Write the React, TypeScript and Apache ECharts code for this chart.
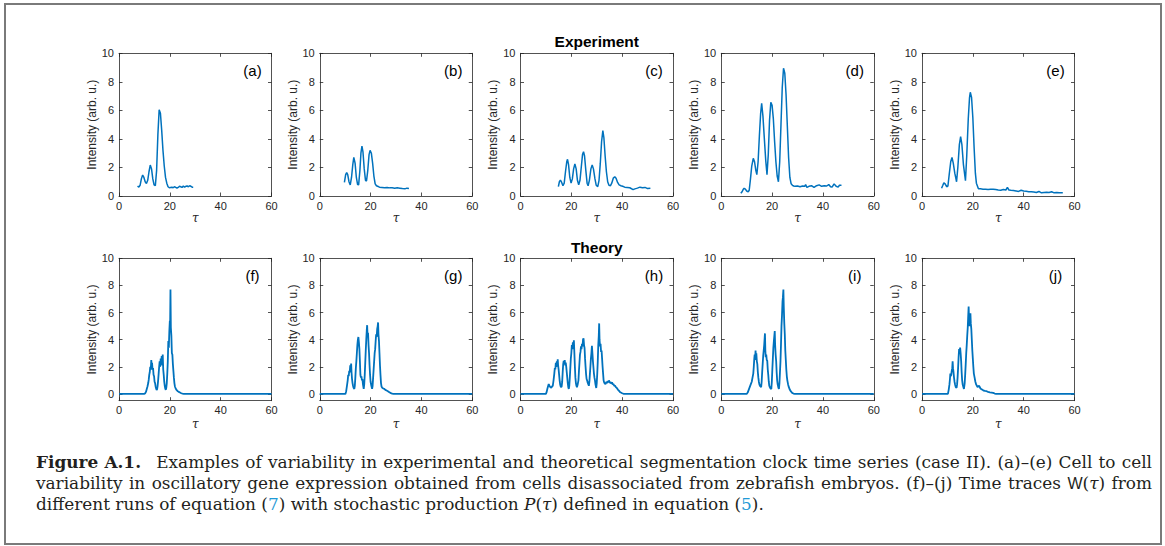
import React, { useEffect, useRef } from "react";
import * as echarts from "echarts";

const W = 1165;
const H = 546;

// ---------- labels ----------
const tauTicks = [0, 20, 40, 60];
const intensityTicks = [0, 2, 4, 6, 8, 10];
const panelLabels = ["(a)", "(b)", "(c)", "(d)", "(e)", "(f)", "(g)", "(h)", "(i)", "(j)"];
const rowTitles = ["Experiment", "Theory"];
const yAxisTitle = "Intensity (arb. u.)";
const xAxisTitle = "τ";

// ---------- experiment traces [tau, intensity] ----------
const traceA = [[7.3,0.7],[7.8,0.62],[8.3,0.75],[8.8,1.2],[9.3,1.47],[9.8,1.3],[10.3,1.0],[10.8,0.88],[11.3,1.1],[11.8,1.7],[12.3,2.17],[12.8,1.9],[13.3,1.2],[13.8,0.78],[14.3,0.72],[14.8,1.8],[15.3,4.3],[15.8,6.05],[16.3,5.8],[16.8,4.6],[17.3,3.2],[17.8,2.1],[18.3,1.3],[18.8,0.9],[19.3,0.65],[19.8,0.58],[20.3,0.6],[20.8,0.62],[21.3,0.58],[21.8,0.65],[22.3,0.6],[22.8,0.55],[23.3,0.6],[23.8,0.68],[24.3,0.65],[24.8,0.6],[25.3,0.7],[25.8,0.62],[26.3,0.68],[26.8,0.7],[27.3,0.65],[27.8,0.72],[28.3,0.68],[28.8,0.62],[29.2,0.62]];
const traceB = [[9.7,0.95],[10.2,1.5],[10.6,1.65],[11.0,1.5],[11.5,1.0],[12.0,0.78],[12.5,1.3],[13.0,2.2],[13.4,2.7],[13.9,2.3],[14.4,1.3],[14.9,0.8],[15.3,0.78],[15.8,1.8],[16.2,3.0],[16.6,3.5],[17.0,3.1],[17.5,1.9],[18.0,1.1],[18.4,1.05],[18.9,1.8],[19.4,2.9],[19.8,3.2],[20.3,3.0],[20.8,2.3],[21.3,1.4],[21.8,0.85],[22.3,0.72],[22.8,0.68],[23.5,0.62],[24.5,0.6],[25.5,0.58],[26.5,0.6],[27.5,0.57],[28.5,0.58],[29.5,0.55],[30.5,0.57],[31.5,0.55],[32.5,0.52],[33.5,0.5],[34.3,0.55],[35.1,0.52]];
const traceC = [[14.9,0.65],[15.3,1.0],[15.7,1.12],[16.2,0.95],[16.7,0.72],[17.2,0.9],[17.7,1.7],[18.2,2.4],[18.5,2.57],[18.9,2.2],[19.4,1.3],[19.9,0.9],[20.4,1.2],[20.9,1.9],[21.4,2.24],[21.9,1.9],[22.4,1.1],[22.9,0.78],[23.4,1.1],[23.9,2.0],[24.4,2.9],[24.8,3.1],[25.2,2.8],[25.7,1.8],[26.2,0.9],[26.6,0.72],[27.1,1.1],[27.7,1.9],[28.2,2.17],[28.7,1.9],[29.3,1.2],[29.8,0.75],[30.4,0.65],[30.9,1.1],[31.4,2.3],[31.9,3.8],[32.4,4.58],[32.8,4.1],[33.3,2.8],[33.8,1.7],[34.3,1.0],[34.8,0.75],[35.4,0.72],[35.9,0.9],[36.5,1.25],[37.1,1.35],[37.6,1.25],[38.2,0.95],[38.8,0.78],[39.5,0.72],[40.2,0.68],[41,0.62],[42,0.6],[43,0.58],[44.3,0.45],[45,0.5],[46,0.55],[47,0.62],[48,0.58],[49,0.6],[50,0.52],[51.1,0.55]];
const traceD = [[7.7,0.19],[8.2,0.3],[8.6,0.45],[9.0,0.54],[9.5,0.48],[10.0,0.35],[10.6,0.3],[11.0,0.4],[11.5,1.2],[12.0,2.1],[12.6,2.64],[13.1,2.4],[13.6,1.8],[14.0,1.5],[14.5,2.4],[15.0,4.2],[15.5,5.8],[15.9,6.5],[16.4,5.6],[17.0,3.9],[17.5,2.5],[18.0,1.5],[18.5,2.9],[19.0,5.3],[19.5,6.57],[20.0,6.35],[20.5,5.4],[21.0,3.8],[21.5,2.4],[22.0,1.4],[22.5,1.0],[23.0,2.4],[23.5,5.0],[24.0,7.6],[24.5,8.95],[25.0,8.6],[25.5,7.1],[26.0,4.9],[26.5,2.7],[27.0,1.3],[27.5,0.85],[28.0,0.75],[28.5,0.7],[29,0.68],[30,0.7],[31,0.65],[32,0.7],[32.8,0.68],[33.2,0.8],[33.7,0.6],[34.5,0.68],[35.5,0.72],[36.5,0.6],[37.5,0.72],[38.5,0.78],[39.5,0.68],[40.5,0.72],[41.5,0.7],[42.3,0.8],[43,0.65],[43.6,0.62],[44.4,0.85],[45.2,0.68],[46,0.62],[46.5,0.75],[47.3,0.76]];
const traceE = [[7.7,0.54],[8.2,0.75],[8.6,0.93],[9.1,0.85],[9.7,0.65],[10.2,0.7],[10.7,1.5],[11.3,2.4],[11.8,2.7],[12.3,2.3],[12.9,1.6],[13.6,1.0],[14.1,2.0],[14.7,3.6],[15.2,4.16],[15.7,3.6],[16.3,2.2],[17.1,1.07],[17.6,2.8],[18.2,5.4],[18.7,6.9],[19.0,7.27],[19.5,6.9],[20.0,5.5],[20.5,3.4],[21.0,1.6],[21.4,0.9],[22.2,0.5],[23,0.5],[24,0.48],[25,0.47],[26,0.45],[27,0.47],[28,0.48],[29,0.45],[30,0.42],[31,0.4],[32,0.45],[33,0.42],[33.6,0.6],[34.2,0.42],[35,0.4],[36,0.38],[37,0.35],[38,0.32],[39,0.4],[40,0.35],[41,0.33],[42,0.3],[43,0.3],[44,0.28],[45,0.25],[46,0.32],[47,0.22],[48,0.25],[49,0.27],[50,0.25],[51,0.3],[52,0.22],[53,0.25],[54,0.22],[55.4,0.22]];

// ---------- theory traces [tau, intensity] ----------
const traceF = [[0,0],[10,0],[10.3,0.05],[10.6,0.15],[10.9,0.35],[11.2,0.55],[11.5,0.8],[11.7,1.05],[11.9,1.4],[12.1,1.6],[12.3,2.0],[12.5,1.8],[12.7,2.5],[12.85,2.1],[13.0,2.3],[13.2,1.8],[13.4,1.9],[13.6,1.4],[13.8,1.3],[14.0,0.9],[14.2,0.8],[14.4,0.55],[14.6,0.4],[14.8,0.3],[15.0,0.35],[15.2,0.6],[15.4,1.0],[15.6,1.5],[15.8,2.0],[16.0,2.4],[16.2,2.0],[16.4,2.6],[16.6,2.2],[16.8,2.8],[17.0,2.1],[17.2,2.9],[17.4,1.8],[17.6,1.4],[17.8,0.9],[18.0,0.6],[18.2,0.4],[18.4,0.3],[18.6,0.45],[18.8,0.8],[19.0,1.5],[19.2,2.4],[19.4,3.9],[19.6,3.4],[19.8,4.6],[20.0,5.4],[20.1,4.8],[20.25,7.7],[20.4,4.9],[20.6,4.3],[20.8,3.0],[21.0,2.9],[21.2,2.2],[21.4,1.7],[21.6,1.2],[21.8,0.8],[22.0,0.55],[22.3,0.4],[22.6,0.3],[23.0,0.22],[23.5,0.15],[24.0,0.1],[24.5,0.05],[25.0,0.02],[25.5,0],[60,0]];
const traceG = [[0,0],[10.1,0],[10.4,0.2],[10.7,0.6],[11.0,1.0],[11.2,1.4],[11.4,1.3],[11.6,1.7],[11.8,1.6],[12.0,2.1],[12.2,1.8],[12.35,2.24],[12.5,1.6],[12.7,1.1],[12.9,0.8],[13.1,0.6],[13.3,0.45],[13.6,0.37],[13.8,0.6],[14.0,1.2],[14.2,1.9],[14.4,2.4],[14.6,3.0],[14.8,3.6],[15.0,4.0],[15.2,4.2],[15.4,3.8],[15.6,3.3],[15.8,2.4],[16.0,1.4],[16.2,1.2],[16.4,1.3],[16.6,1.0],[16.8,1.1],[17.0,0.7],[17.3,0.37],[17.5,0.7],[17.7,1.4],[17.9,2.3],[18.1,3.2],[18.3,4.0],[18.5,4.7],[18.65,5.07],[18.8,4.3],[19.0,4.5],[19.2,3.6],[19.4,3.0],[19.6,2.1],[19.8,1.4],[20.0,0.9],[20.3,0.6],[20.6,0.37],[20.8,0.6],[21.0,1.2],[21.2,1.8],[21.4,2.4],[21.6,3.0],[21.8,3.3],[22.0,3.9],[22.2,4.4],[22.4,4.2],[22.6,4.8],[22.8,5.0],[22.95,5.27],[23.1,4.4],[23.3,3.9],[23.5,3.0],[23.7,2.1],[23.9,1.4],[24.1,0.8],[24.3,0.55],[24.6,0.45],[25.0,0.4],[25.4,0.37],[25.8,0.3],[26.3,0.25],[26.8,0.2],[27.4,0.12],[28.0,0.06],[28.5,0.02],[29,0],[60,0]];
const traceH = [[0,0],[10.0,0],[10.3,0.15],[10.6,0.4],[10.9,0.6],[11.1,0.73],[11.3,0.65],[11.5,0.55],[11.8,0.5],[12.1,0.45],[12.4,0.55],[12.7,0.6],[13.0,1.0],[13.3,1.5],[13.5,1.9],[13.7,1.8],[13.9,2.3],[14.1,2.0],[14.3,2.4],[14.5,2.2],[14.65,2.56],[14.8,2.1],[15.0,1.8],[15.2,1.4],[15.4,1.0],[15.6,0.7],[15.9,0.5],[16.2,0.55],[16.4,0.9],[16.6,1.6],[16.8,2.2],[17.0,2.44],[17.2,2.2],[17.4,2.5],[17.6,2.1],[17.8,2.3],[18.0,2.0],[18.2,1.6],[18.4,1.2],[18.6,0.8],[18.8,0.5],[19.0,0.37],[19.2,0.6],[19.4,1.2],[19.6,1.9],[19.8,2.6],[20.0,3.0],[20.2,3.6],[20.4,3.3],[20.6,3.8],[20.8,3.5],[21.0,3.95],[21.2,3.0],[21.4,2.0],[21.6,1.2],[21.8,0.8],[22.0,0.6],[22.2,0.5],[22.5,0.7],[22.8,1.0],[23.0,1.7],[23.2,2.3],[23.4,2.9],[23.6,3.1],[23.8,3.5],[24.0,3.3],[24.2,3.7],[24.4,3.5],[24.6,4.0],[24.8,4.1],[25.0,3.6],[25.2,3.4],[25.4,2.6],[25.6,2.0],[25.8,1.46],[26.0,1.1],[26.2,1.0],[26.4,0.85],[26.7,0.7],[26.9,0.6],[27.1,0.9],[27.3,1.46],[27.5,2.0],[27.7,2.6],[27.9,3.0],[28.1,3.54],[28.3,3.0],[28.5,2.4],[28.7,1.95],[28.9,1.5],[29.1,1.2],[29.3,1.0],[29.5,0.7],[29.8,0.44],[30.0,0.8],[30.2,1.5],[30.4,2.4],[30.6,3.6],[30.8,4.3],[30.95,5.2],[31.1,4.0],[31.3,3.5],[31.5,3.7],[31.7,3.1],[31.9,3.2],[32.1,2.6],[32.3,2.0],[32.5,1.5],[32.7,1.0],[32.9,0.85],[33.2,0.75],[33.5,0.73],[33.8,0.9],[34.0,0.8],[34.3,0.95],[34.6,0.85],[34.8,1.0],[35.1,0.8],[35.4,0.9],[35.7,0.75],[36.0,0.85],[36.3,0.7],[36.6,0.72],[36.9,0.6],[37.2,0.62],[37.5,0.5],[37.9,0.44],[38.3,0.32],[38.7,0.24],[39.1,0.15],[39.5,0.1],[40.0,0.05],[40.5,0.01],[41,0],[60,0]];
const traceI = [[0,0],[10.0,0],[10.4,0.1],[10.8,0.3],[11.2,0.5],[11.6,0.7],[12.0,0.9],[12.3,1.2],[12.6,1.5],[12.8,2.0],[13.0,2.6],[13.15,2.9],[13.3,2.5],[13.5,3.2],[13.65,2.7],[13.8,3.0],[14.0,2.4],[14.2,2.2],[14.4,1.6],[14.6,1.2],[14.8,0.9],[15.0,0.7],[15.2,0.6],[15.5,0.55],[15.7,0.5],[15.9,0.9],[16.1,1.6],[16.3,2.2],[16.5,2.8],[16.7,3.2],[16.9,3.6],[17.1,4.2],[17.2,4.46],[17.35,3.2],[17.5,2.7],[17.7,2.9],[17.9,2.5],[18.1,2.44],[18.3,1.8],[18.5,1.4],[18.7,0.9],[18.9,0.6],[19.1,0.5],[19.4,0.4],[19.7,0.37],[19.9,0.9],[20.1,1.8],[20.3,2.6],[20.5,3.4],[20.7,3.9],[20.9,4.3],[21.05,4.63],[21.2,3.6],[21.4,2.9],[21.6,2.44],[21.8,1.6],[22.0,1.0],[22.2,0.7],[22.5,0.45],[22.7,0.37],[22.9,0.8],[23.1,1.6],[23.3,2.4],[23.5,3.6],[23.7,5.0],[23.9,5.8],[24.1,6.8],[24.25,7.1],[24.45,7.7],[24.6,6.4],[24.8,5.2],[25.0,4.4],[25.2,3.2],[25.4,2.5],[25.6,1.8],[25.8,1.3],[26.0,1.0],[26.3,0.7],[26.6,0.5],[27.0,0.3],[27.4,0.18],[27.9,0.08],[28.4,0.03],[29,0],[60,0]];
const traceJ = [[0,0],[10.2,0],[10.5,0.3],[10.8,0.7],[11.0,1.1],[11.15,1.5],[11.3,1.3],[11.5,1.4],[11.7,1.7],[11.9,1.9],[12.05,2.4],[12.2,1.9],[12.4,1.6],[12.6,1.2],[12.8,0.9],[13.0,0.7],[13.3,0.5],[13.6,0.44],[13.8,0.7],[14.0,1.2],[14.2,1.9],[14.4,2.7],[14.6,3.3],[14.8,3.1],[15.0,3.41],[15.2,3.0],[15.4,2.44],[15.6,1.6],[15.8,1.0],[16.0,0.7],[16.3,0.5],[16.5,0.37],[16.8,0.8],[17.0,1.46],[17.2,2.2],[17.4,3.0],[17.6,3.6],[17.8,4.3],[18.0,4.9],[18.15,5.6],[18.35,6.44],[18.5,5.5],[18.7,5.0],[18.85,5.4],[19.05,5.95],[19.2,5.2],[19.4,4.8],[19.6,4.0],[19.8,3.2],[20.0,2.6],[20.2,2.0],[20.4,1.5],[20.7,1.2],[21.0,0.9],[21.3,0.7],[21.7,0.55],[22.0,0.5],[22.3,0.6],[22.6,0.55],[23.0,0.4],[23.4,0.35],[23.8,0.3],[24.3,0.24],[24.8,0.22],[25.4,0.2],[26.0,0.15],[26.7,0.12],[27.4,0.1],[28.0,0.08],[28.6,0.03],[29.2,0],[60,0]];

const traces = [traceA, traceB, traceC, traceD, traceE, traceF, traceG, traceH, traceI, traceJ];

// ---------- caption ----------
const captionLines: string[][] = [
  ["{b|Figure}", "{b|A.1.}", "Examples", "of", "variability", "in", "experimental", "and", "theoretical", "segmentation", "clock", "time", "series", "(case", "II).", "(a)–(e)", "Cell", "to", "cell"],
  ["variability", "in", "oscillatory", "gene", "expression", "obtained", "from", "cells", "disassociated", "from", "zebrafish", "embryos.", "(f)–(j)", "Time", "traces", "{s|W}({i|τ})", "from"],
  ["different", "runs", "of", "equation", "({c|7})", "with", "stochastic", "production", "{i|P}({i|τ})", "defined", "in", "equation", "({c|5})."],
];

// ---------- styling ----------
const SANS = "Liberation Sans";
const SERIF = "DejaVu Serif";
const AX = "#262626";
const LINE = "#0072BD";
const CAP_SIZE = 16.9;
const CAP_COLOR = "#231f20";
const LINK = "#1f9ad6";

const GRID_LEFT0 = 119;
const COL_STEP = 200.75;
const GRID_W = 152.5;
const ROW_TOP = [53.3, 258.3];
const ROW_H = [142.7, 142.4];

type SegStyle = { family: string; size: number; weight: string; style: string; color: string };
const capStyles: Record<string, SegStyle> = {
  n: { family: SERIF, size: CAP_SIZE, weight: "normal", style: "normal", color: CAP_COLOR },
  b: { family: SERIF, size: CAP_SIZE, weight: "bold", style: "normal", color: CAP_COLOR },
  i: { family: SERIF, size: CAP_SIZE, weight: "normal", style: "italic", color: CAP_COLOR },
  c: { family: SERIF, size: CAP_SIZE, weight: "normal", style: "normal", color: LINK },
  s: { family: SANS, size: CAP_SIZE * 0.95, weight: "normal", style: "normal", color: CAP_COLOR },
};

function parseWord(w: string) {
  const segs: { k: string; t: string }[] = [];
  const re = /\{(\w+)\|([^}]*)\}/g;
  let last = 0;
  let m: RegExpExecArray | null;
  while ((m = re.exec(w))) {
    if (m.index > last) segs.push({ k: "n", t: w.slice(last, m.index) });
    segs.push({ k: m[1], t: m[2] });
    last = re.lastIndex;
  }
  if (last < w.length) segs.push({ k: "n", t: w.slice(last) });
  return segs;
}

function buildCaption(): any[] {
  const canvas = document.createElement("canvas");
  const ctx = canvas.getContext("2d")!;
  const measure = (t: string, s: SegStyle) => {
    ctx.font = `${s.style} ${s.weight} ${s.size}px "${s.family}"`;
    return ctx.measureText(t).width;
  };
  const x0 = 36;
  const fullW = 1116;
  const lineY = [462, 483, 504];
  const spaceW = measure(" ", capStyles.n);
  const out: any[] = [];
  captionLines.forEach((words, li) => {
    const parsed = words.map((w) =>
      parseWord(w).map((sg) => ({ ...sg, w: measure(sg.t, capStyles[sg.k]) }))
    );
    const wordW = parsed.map((p) => p.reduce((a, b) => a + b.w, 0));
    const extra = li === 0 ? 9 : 0;
    const total = wordW.reduce((a, b) => a + b, 0) + extra;
    const gap = li < 2 ? (fullW - total) / (words.length - 1) : spaceW;
    let x = x0;
    parsed.forEach((p, wi) => {
      p.forEach((sg) => {
        const st = capStyles[sg.k];
        out.push({
          type: "text",
          x,
          y: lineY[li],
          silent: true,
          style: {
            text: sg.t,
            fill: st.color,
            fontFamily: st.family,
            fontSize: st.size,
            fontWeight: st.weight,
            fontStyle: st.style,
            align: "left",
            verticalAlign: "middle",
          },
        });
        x += sg.w;
      });
      x += gap + (li === 0 && wi === 1 ? extra : 0);
    });
  });
  return out;
}

function buildOption() {
  const grid: any[] = [];
  const xAxis: any[] = [];
  const yAxis: any[] = [];
  const series: any[] = [];
  const graphic: any[] = [];

  const lineStyle = { color: AX, width: 0.8 };
  const tick = { show: true, inside: true, length: 3.5, lineStyle };
  const tickFont = { fontSize: 11, color: AX, fontFamily: SANS };

  traces.forEach((data, i) => {
    const row = i < 5 ? 0 : 1;
    const col = i % 5;
    const left = GRID_LEFT0 + col * COL_STEP;
    const top = ROW_TOP[row];
    const h = ROW_H[row];
    grid.push({ left, top, width: GRID_W, height: h, containLabel: false });

    const xBase = {
      type: "value",
      gridIndex: i,
      min: 0,
      max: 60,
      interval: 20,
      splitLine: { show: false },
      axisLine: { show: true, onZero: false, lineStyle },
      axisTick: { ...tick },
    };
    xAxis.push({
      ...xBase,
      position: "bottom",
      axisLabel: { show: true, margin: 4, ...tickFont, customValues: tauTicks },
      name: xAxisTitle,
      nameLocation: "middle",
      nameGap: row === 0 ? 15 : 17,
      nameTextStyle: { fontFamily: SERIF, fontStyle: "italic", fontSize: 12, color: AX },
    });
    xAxis.push({ ...xBase, position: "top", axisLabel: { show: false } });

    const yMin = row === 0 ? 0 : -0.5;
    const yBase = {
      type: "value",
      gridIndex: i,
      min: yMin,
      max: 10,
      splitLine: { show: false },
      axisLine: { show: true, onZero: false, lineStyle },
      axisTick: { ...tick, customValues: intensityTicks },
    };
    yAxis.push({
      ...yBase,
      position: "left",
      axisLabel: { show: true, margin: 5, ...tickFont, customValues: intensityTicks },
      name: yAxisTitle,
      nameLocation: "middle",
      nameRotate: 90,
      nameGap: 19,
      nameTextStyle: { fontFamily: SANS, fontSize: 12, color: AX },
    });
    yAxis.push({ ...yBase, position: "right", axisLabel: { show: false } });

    series.push({
      type: "line",
      xAxisIndex: 2 * i,
      yAxisIndex: 2 * i,
      data,
      showSymbol: false,
      symbol: "none",
      lineStyle: { color: LINE, width: row === 0 ? 1.5 : 1.8 },
      z: 3,
    });

    graphic.push({
      type: "text",
      x: left + GRID_W - 19,
      y: top + 17,
      silent: true,
      style: {
        text: panelLabels[i],
        fill: "#000",
        fontFamily: SANS,
        fontSize: 15,
        align: "center",
        verticalAlign: "middle",
      },
    });
  });

  rowTitles.forEach((t, r) => {
    graphic.push({
      type: "text",
      x: GRID_LEFT0 + 2 * COL_STEP + GRID_W / 2,
      y: r === 0 ? 41.5 : 247,
      silent: true,
      style: {
        text: t,
        fill: "#000",
        fontFamily: SANS,
        fontSize: 15.5,
        fontWeight: "bold",
        align: "center",
        verticalAlign: "middle",
      },
    });
  });

  graphic.push({
    type: "rect",
    silent: true,
    shape: { x: 5, y: 4, width: 1156, height: 540 },
    style: { fill: "none", stroke: "#7a7a7a", lineWidth: 2 },
  });

  graphic.push(...buildCaption());

  return {
    animation: false,
    backgroundColor: "#ffffff",
    textStyle: { fontFamily: SANS },
    grid,
    xAxis,
    yAxis,
    series,
    graphic,
  };
}

export default function App() {
  const ref = useRef<HTMLDivElement>(null);
  useEffect(() => {
    document.body.style.margin = "0";
    const chart = echarts.init(ref.current!, null, { renderer: "svg" });
    chart.setOption(buildOption() as any);
    return () => chart.dispose();
  }, []);
  return (
    <div
      ref={ref}
      style={{ position: "absolute", left: 0, top: 0, width: W, height: H, background: "#fff" }}
    />
  );
}
